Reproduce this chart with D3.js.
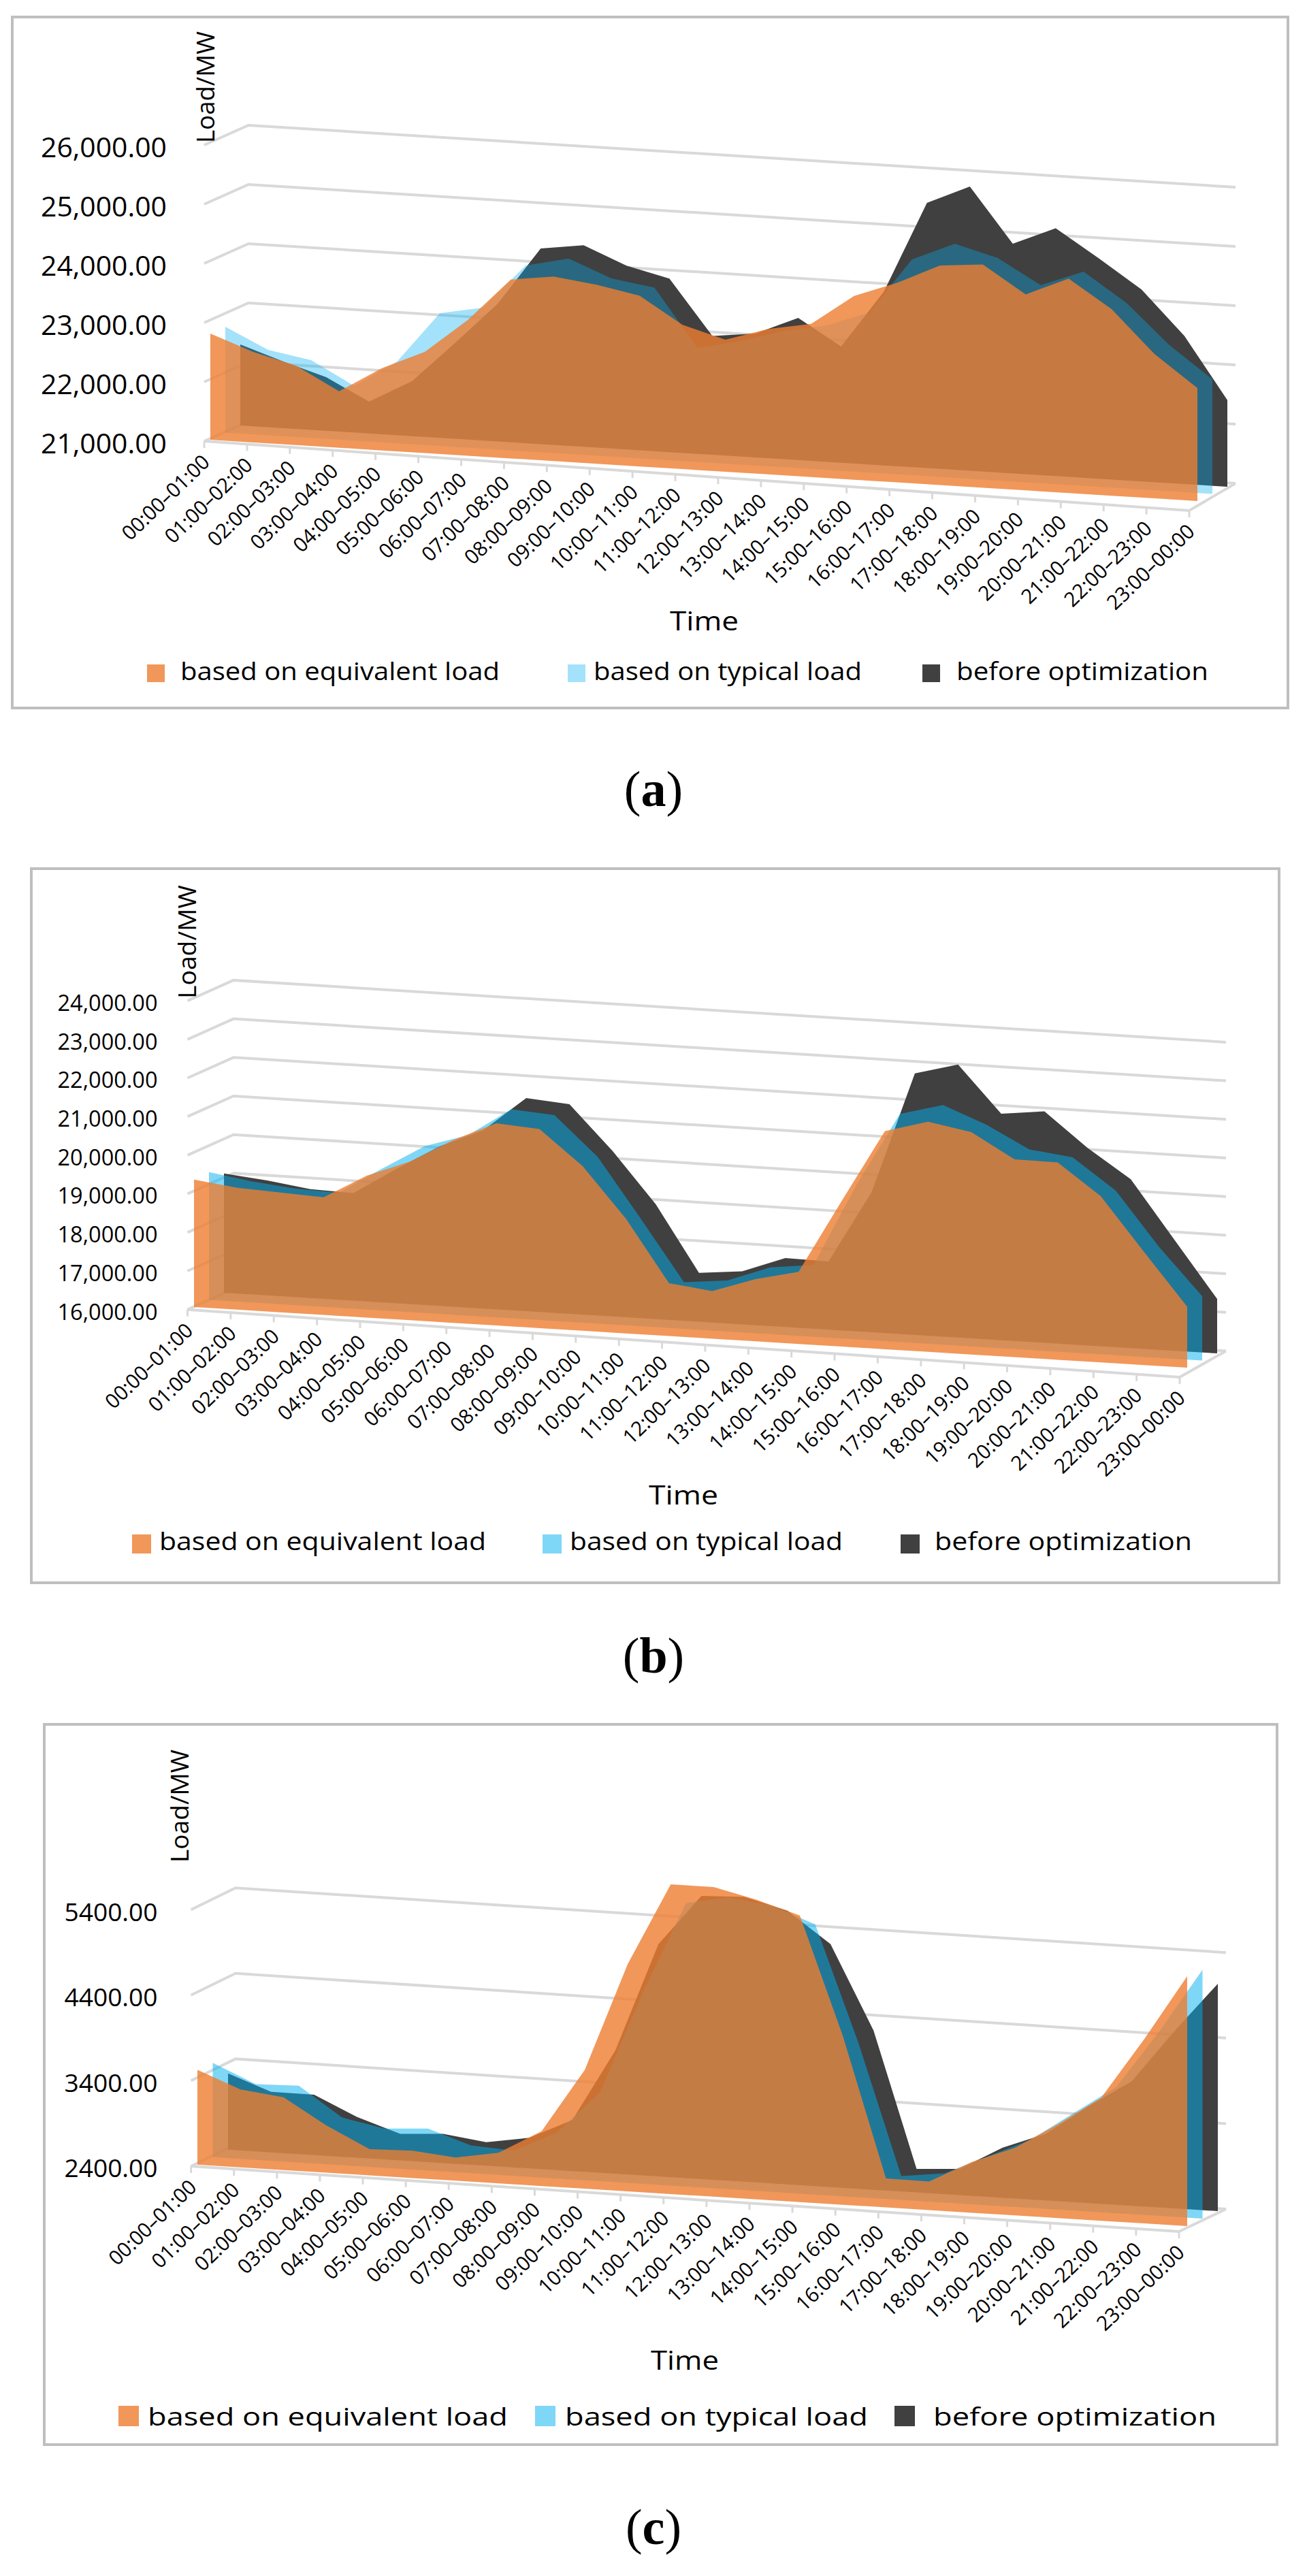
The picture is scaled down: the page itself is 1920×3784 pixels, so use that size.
<!DOCTYPE html>
<html><head><meta charset="utf-8">
<script src="https://cdn.jsdelivr.net/npm/d3@7/dist/d3.min.js"></script>
<style>html,body{margin:0;padding:0;background:#fff}svg{display:block}text{font-family:"Open Sans",sans-serif;fill:#000}</style>
</head><body><svg id="c" width="1920" height="3784"></svg>
<script>
const categories=["00:00–01:00","01:00–02:00","02:00–03:00","03:00–04:00","04:00–05:00","05:00–06:00","06:00–07:00","07:00–08:00","08:00–09:00","09:00–10:00","10:00–11:00","11:00–12:00","12:00–13:00","13:00–14:00","14:00–15:00","15:00–16:00","16:00–17:00","17:00–18:00","18:00–19:00","19:00–20:00","20:00–21:00","21:00–22:00","22:00–23:00","23:00–00:00"];
const seriesNames=["based on equivalent load","based on typical load","before optimization"];

const aEquivalent=[22793,22529,22340,21954,22390,22710,23293,24020,24115,24023,23885,23437,23230,23454,23586,24103,24368,24707,24770,24310,24620,24150,23437,22908];
const aTypical=[22787,22441,22314,21926,22379,23241,23379,24138,24299,24008,23897,22925,23086,23302,23437,23701,24644,24954,24759,24345,24617,24133,23466,22936];
const aBefore=[22368,22126,21906,21537,21926,22615,23328,24303,24402,24103,23931,23006,23092,23402,22962,23938,25478,25799,24878,25184,24724,24241,23500,22464];
const aTicks=[21000,22000,23000,24000,25000,26000];

const bEquivalent=[19302,19160,19102,19048,19677,20110,20737,21238,21160,20265,18975,17369,17233,17610,17870,19774,21650,21960,21762,21123,21113,20303,18928,17578];
const bTypical=[19313,19136,19018,18983,19670,20325,20677,21414,21335,20322,18787,17208,17323,17728,17864,20018,21910,22208,21770,21196,21060,20265,18876,17667];
const bBefore=[19091,18980,18820,18787,19487,20139,20615,21523,21432,20287,18975,17268,17374,17785,17766,19633,22777,23072,21868,21996,21115,20374,18892,17411];
const bTicks=[16000,17000,18000,19000,20000,21000,22000,23000,24000];

const cEquivalent=[3509,3312,3252,2951,2707,2719,2672,2758,3042,3789,5059,6023,6021,5903,5752,4371,2738,2734,2995,3190,3499,3838,4554,5322];
const cTypical=[3503,3286,3298,2959,2859,2890,2726,2695,2941,3439,4643,5717,5815,5744,5561,4213,2679,2742,2969,3196,3538,3878,4563,5310];
const cBefore=[3292,3109,3106,2876,2710,2742,2675,2758,2997,3841,5115,5712,5730,5601,5242,4263,2676,2707,2986,3179,3535,3857,4478,5059];
const cTicks=[2400,3400,4400,5400];

const panels=[
{id:"a",data:[aEquivalent,aTypical,aBefore],ticks:aTicks,fmt:d3.format(",.2f"),blueAlpha:.36,
 frame:[18,25,1892,1040],
 front:[300,648,1747,750],back:[365,619,1815,710],pxPer1000:87,
 orange:[309,646,1759,736],step:[22,-10.5],
 tickRight:245,tickFs:41,tickW:185,tickDy:3,catW:165,catFs:30,
 ylab:[317,210,164,36],xlab:[984,926,101,38],
 legend:{y:999,fs:37,sq:[[216,976,26],[834,976,26],[1355,976,26]],tx:[[265,469],[872,394],[1405,370]]},
 cap:[960,1184]},
{id:"b",data:[bEquivalent,bTypical,bBefore],ticks:bTicks,fmt:d3.format(",.2f"),blueAlpha:.5,
 frame:[46,1276,1879,2325],
 front:[275.5,1923.7,1733,2023],back:[343,1893.5,1801,1984.5],pxPer1000:56.7,
 orange:[285,1920,1744,2009],step:[22,-10.5],
 tickRight:231.5,tickFs:33,tickW:147,tickDy:3,catW:165,catFs:30,
 ylab:[290,1467,167,36],xlab:[953,2210,102,38],
 legend:{y:2277,fs:37,sq:[[194,2254,28],[797,2254,28],[1323,2254,28]],tx:[[234,480],[837,401],[1373,378]]},
 cap:[960,2457]},
{id:"c",data:[cEquivalent,cTypical,cBefore],ticks:cTicks,fmt:d3.format(".2f"),blueAlpha:.5,
 frame:[65,2533,1876,3591],
 front:[280.6,3182,1732,3278],back:[346,3150,1801,3245],pxPer1000:125.6,
 orange:[290,3179.8,1744,3270],step:[22.5,-11],
 tickRight:231.5,tickFs:37,tickW:137,tickDy:3,catW:165,catFs:30,
 ylab:[279,2736,166,36],xlab:[956,3481,100,38],
 legend:{y:3563,fs:37,sq:[[174,3534,30],[786,3534,30],[1314,3534,30]],tx:[[217,529],[830,445],[1371,416]]},
 cap:[960,3737]}
];

const svg=d3.select("#c");
const GRID="#d9d9d9",FRAME="#bfbfbf";
const colors=[["#ED7D31",.8],["#00B0F0",null],["#404040",1]];
const idx=d3.range(categories.length);

panels.forEach(p=>{
  const g=svg.append("g").attr("id","panel-"+p.id);
  const [fx0,fy0,fx1,fy1]=p.frame;
  g.append("rect").attr("x",fx0).attr("y",fy0).attr("width",fx1-fx0).attr("height",fy1-fy0)
    .attr("fill","#fff").attr("stroke",FRAME).attr("stroke-width",4);

  const v0=p.ticks[0],vMax=p.ticks[p.ticks.length-1];
  const lift=d3.scaleLinear().domain([v0,vMax]).range([0,(vMax-v0)/1000*p.pxPer1000]);
  const frontX=d3.scaleLinear().domain([0,23]).range([p.front[0],p.front[2]]);
  const frontY=d3.scaleLinear().domain([0,23]).range([p.front[1],p.front[3]]);

  // walls
  const line=d3.line();
  p.ticks.forEach(t=>{
    const h=lift(t);
    g.append("path").attr("fill","none").attr("stroke",GRID).attr("stroke-width",4)
      .attr("d",line([[p.front[0],p.front[1]-h],[p.back[0],p.back[1]-h],[p.back[2],p.back[3]-h]]));
    g.append("text").attr("x",p.tickRight).attr("y",p.front[1]-h+p.tickDy).attr("dy",".36em")
      .attr("text-anchor","end").attr("font-size",p.tickFs)
      .attr("textLength",p.tickW).attr("lengthAdjust","spacingAndGlyphs").text(p.fmt(t));
  });
  // floor edges and category ticks
  g.append("path").attr("fill","none").attr("stroke",GRID).attr("stroke-width",4)
    .attr("d",line([[p.front[0],p.front[1]],[p.front[2],p.front[3]],[p.back[2],p.back[3]]]));
  g.selectAll(".tk").data(idx).join("path").attr("stroke",GRID).attr("stroke-width",3).attr("fill","none")
    .attr("d",i=>line([[frontX(i),frontY(i)],[frontX(i),frontY(i)+10]]));

  // series, back to front
  const baseX=d3.scaleLinear().domain([0,23]).range([p.orange[0],p.orange[2]]);
  const baseY=d3.scaleLinear().domain([0,23]).range([p.orange[1],p.orange[3]]);
  [2,1,0].forEach(s=>{
    const sx=p.step[0]*s,sy=p.step[1]*s;
    const area=d3.area().x(i=>baseX(i)+sx).y0(i=>baseY(i)+sy).y1(i=>baseY(i)+sy-lift(p.data[s][i]));
    const [col,al]=colors[s];
    g.append("path").attr("fill",col).attr("fill-opacity",al===null?p.blueAlpha:al).attr("d",area(idx));
  });

  // category labels
  g.selectAll(".cat").data(idx).join("text").attr("font-size",p.catFs)
    .attr("text-anchor","end").attr("textLength",p.catW).attr("lengthAdjust","spacingAndGlyphs")
    .attr("transform",i=>`translate(${frontX(i)+10},${frontY(i)+33}) rotate(-44)`)
    .text(i=>categories[i]);

  // axis titles
  g.append("text").attr("font-size",p.ylab[3]).attr("textLength",p.ylab[2]).attr("lengthAdjust","spacingAndGlyphs")
    .attr("transform",`translate(${p.ylab[0]-2},${p.ylab[1]}) rotate(-90)`).text("Load/MW");
  g.append("text").attr("x",p.xlab[0]).attr("y",p.xlab[1]).attr("font-size",p.xlab[3])
    .attr("textLength",p.xlab[2]).attr("lengthAdjust","spacingAndGlyphs").text("Time");

  // legend
  seriesNames.forEach((n,s)=>{
    const [x,y,w]=p.legend.sq[s];
    const [col,al]=colors[s];
    g.append("rect").attr("x",x).attr("y",y).attr("width",w).attr("height",w)
      .attr("fill",col).attr("fill-opacity",al===null?p.blueAlpha:al);
    g.append("text").attr("x",p.legend.tx[s][0]).attr("y",p.legend.y).attr("font-size",p.legend.fs)
      .attr("textLength",p.legend.tx[s][1]).attr("lengthAdjust","spacingAndGlyphs").text(n);
  });

  // caption
  const cap=g.append("text").attr("x",p.cap[0]).attr("y",p.cap[1]).attr("text-anchor","middle")
    .attr("font-size",74).style("font-family","'Liberation Serif',serif");
  cap.append("tspan").text("(");
  cap.append("tspan").attr("font-weight","bold").text(p.id);
  cap.append("tspan").text(")");
});
</script></body></html>
